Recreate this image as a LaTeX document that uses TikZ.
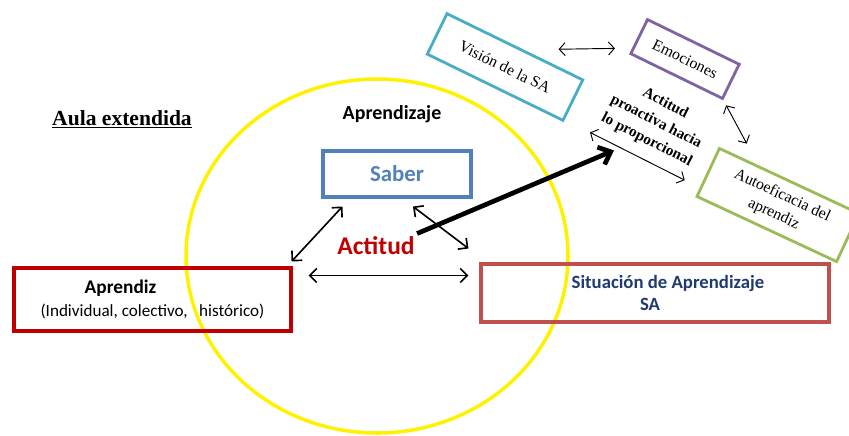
\documentclass[tikz,border=0pt]{standalone}
\usepackage{fontspec}
\setmainfont{Liberation Serif}
\setsansfont{Carlito}
\usetikzlibrary{arrows.meta}

\definecolor{saberblue}{HTML}{4F81BD}
\definecolor{aprred}{HTML}{C00000}
\definecolor{sitred}{HTML}{C0504D}
\definecolor{sitnavy}{HTML}{1F3A70}
\definecolor{viscyan}{HTML}{4BACC6}
\definecolor{emopurple}{HTML}{8064A2}
\definecolor{autogreen}{HTML}{9BBB59}

\begin{document}
\begin{tikzpicture}[
    x=0.03cm, y=-0.03cm,
    lnk/.style={{Straight Barb[length=6pt,width=12pt]}-{Straight Barb[length=6pt,width=12pt]}, line width=1.4pt},
    slnk/.style={{Straight Barb[length=5pt,width=11pt]}-{Straight Barb[length=5pt,width=11pt]}, line width=0.8pt},
    big/.style={-{Straight Barb[length=9pt,width=16pt]}, line width=4pt},
    box/.style={draw, line width=2.6pt, inner sep=0pt, align=center},
    tbox/.style={draw, line width=2.4pt, inner sep=0pt, align=center,
        font=\fontsize{13.5}{17}\selectfont},
    sflbl/.style={font=\sffamily\bfseries\fontsize{#1}{#1}\selectfont, inner sep=1pt}
]
\useasboundingbox (0,0) rectangle (849,435);
\clip (0,0) rectangle (849,435);
% Title
\node[font=\bfseries\fontsize{18.4}{22}\selectfont] (aula) at (122,119) {\underline{Aula extendida}};
% Aprendizaje (yellow circle)
\draw[yellow, line width=3pt] (377,256) ellipse [x radius=191, y radius=177];
\node[sflbl=17] (aprz) at (392,114) {Aprendizaje};
% Saber, Aprendiz, Situacion
\node[box, draw=saberblue, minimum width=4.44cm, minimum height=1.38cm, text=saberblue,
    font=\sffamily\bfseries\fontsize{19.5}{22}\selectfont] (saber) at (397,174) {Saber};
\node[box, draw=aprred, minimum width=8.31cm, minimum height=1.89cm,
    font=\sffamily\fontsize{14.6}{19.5}\selectfont] (apr) at (152.5,299.5)
    {\textbf{\fontsize{16.5}{19.5}\selectfont Aprendiz}\hspace*{1.92cm}\\(Individual,\ colectivo,\ \ \ histórico)};
\node[box, draw=sitred, minimum width=10.44cm, minimum height=1.74cm, text=sitnavy,
    font=\sffamily\bfseries\fontsize{16}{19}\selectfont] (sit) at (655,293)
    {\hspace*{0.78cm}Situación de Aprendizaje\\SA\hspace*{0.3cm}};
\node[sflbl=21.8, text=aprred] (act) at (376,246) {Actitud};
\draw[lnk] ([shift={(-1,-5)}]apr.north east) -- ([shift={(21,8)}]saber.south west);
\draw[lnk] ([shift={(16,8)}]saber.south) -- ([shift={(-11,-14)}]sit.north west);
\draw[lnk] ([shift={(16,9)}]apr.north east) -- ([shift={(-11,13)}]sit.north west);
% Actitud proactiva
\node[tbox, draw=viscyan, rotate=-26, minimum width=4.53cm, minimum height=1.35cm] (vis) at (505,67) {Visión de la SA};
\node[tbox, draw=emopurple, rotate=-26, minimum width=3.06cm, minimum height=1.14cm] (emo) at (685,59) {Emociones};
\node[tbox, draw=autogreen, rotate=-25, minimum width=4.62cm, minimum height=1.59cm] (auto) at (778,205) {Autoeficacia del\\aprendiz};
\node[font=\bfseries\fontsize{13}{17.5}\selectfont, rotate=-27, align=center, inner sep=3pt] (proac) at (656,122)
    {Actitud\\proactiva hacia\\lo proporcional};
\draw[slnk] ([shift={(-4,7)}]proac.south west) -- ([shift={(-5,6)}]proac.south east);
\draw[slnk] ([shift={(-26,-30)}]vis.north east) -- ([shift={(-14,-6)}]emo.south west);
\draw[slnk] ([shift={(3,5)}]emo.south east) -- ([shift={(28,-3)}]auto.north west);
\draw[big] ([shift={(1,-2)}]act.north east) -- ([shift={(20,25)}]proac.south west);
\end{tikzpicture}
\end{document}
